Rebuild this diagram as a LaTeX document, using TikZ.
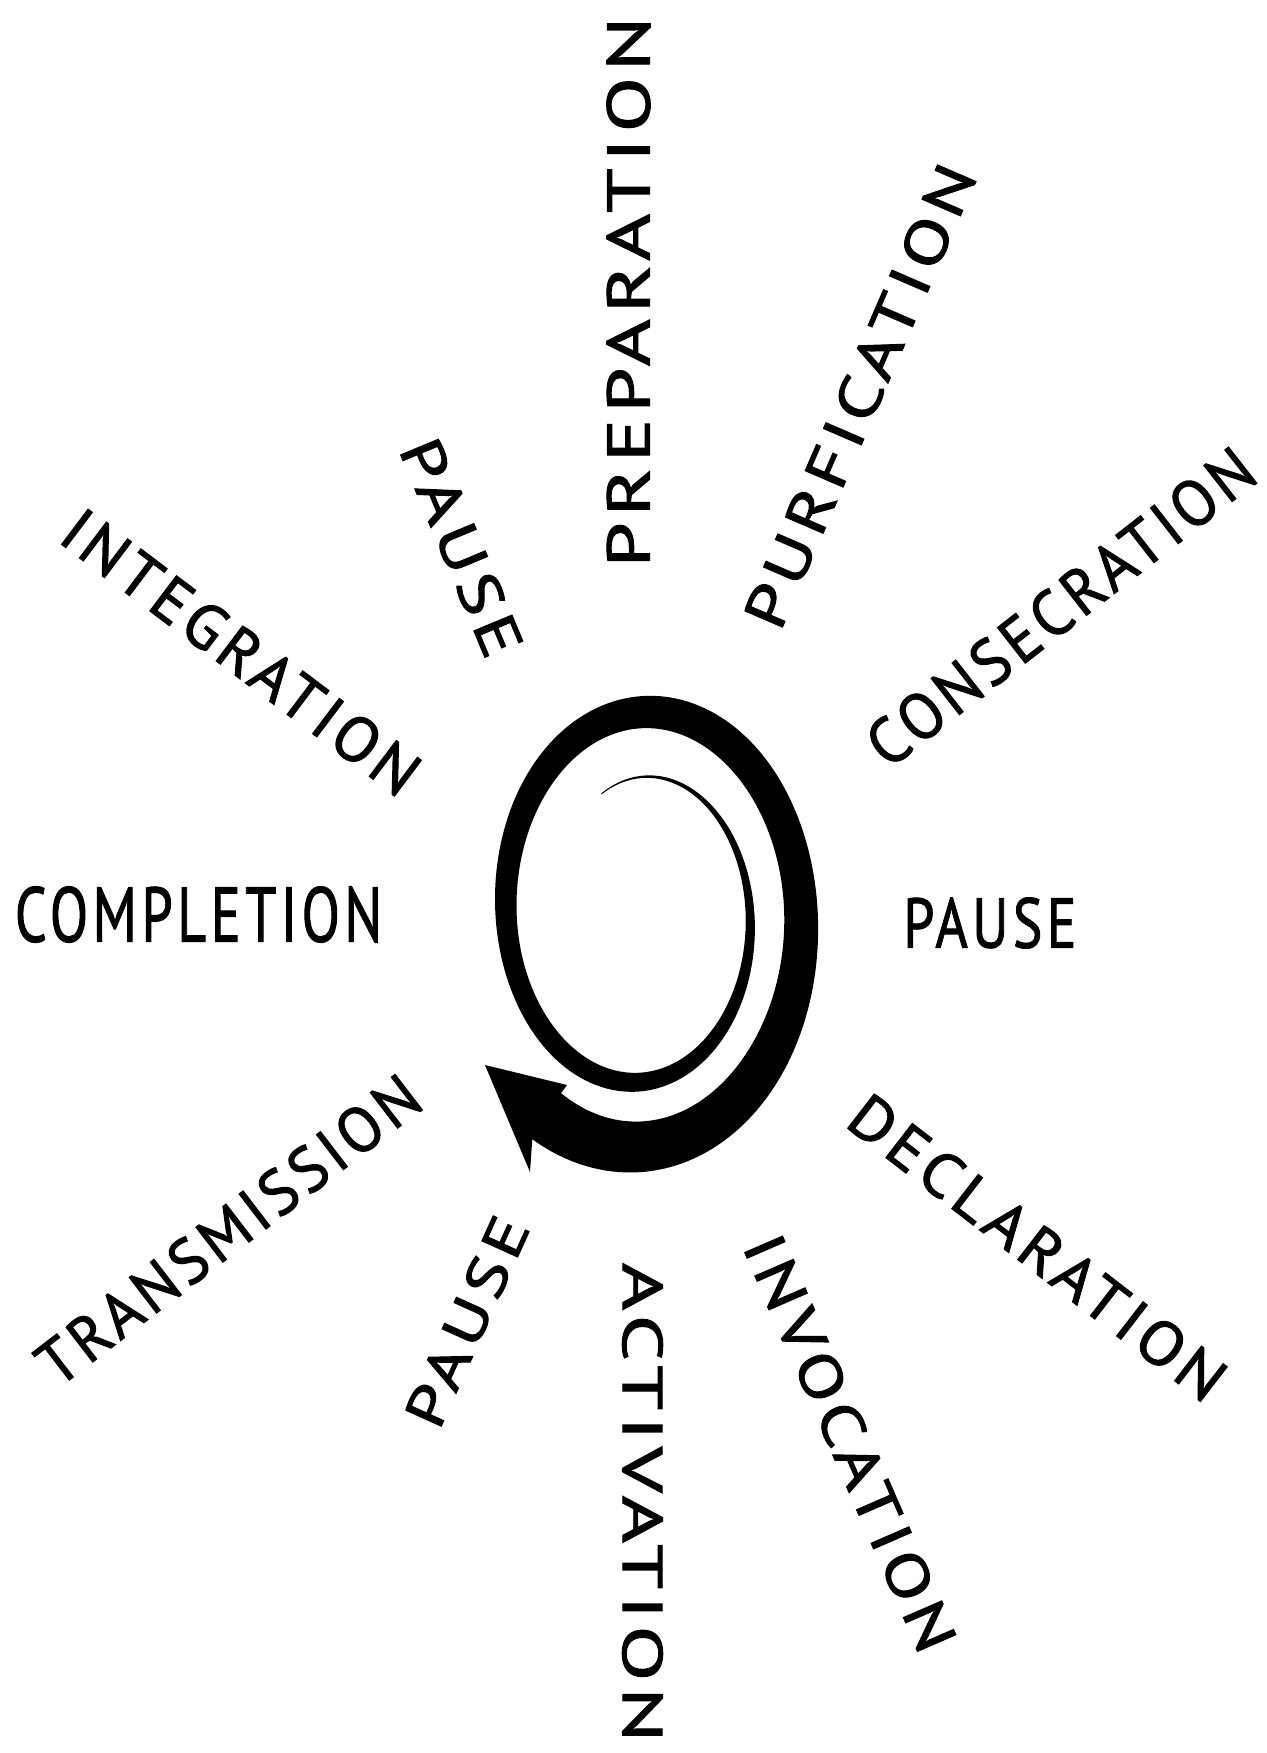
\documentclass[tikz,border=0pt]{standalone}
\usepackage{graphicx}
\usepackage{fontspec}
\newfontfamily\lblfont[LetterSpace=8,FakeBold=1.6]{PT Sans}
\newlength\pxu
\setlength\pxu{0.1mm}
\newcommand\lbl[3]{\resizebox{#1\pxu}{#2\pxu}{\lblfont #3}}
\begin{document}
\begin{tikzpicture}[x=0.01cm,y=-0.01cm,
  lab/.style={inner sep=0pt,outer sep=0pt,anchor=center},
  declare function={
    sa(\t)=109.25+0.1417*\t;
    sb(\t)=152.5+0.18*\t;
    sw(\t)=1+54*pow((\t+116)/604,1.2)+3*exp(-((\t-90)/60)^2)-3*exp(-((\t-180)/50)^2)-8*exp(-((\t-360)/50)^2);
  }]
\useasboundingbox (0,0) rectangle (1267,1753);
\fill[white] (0,0) rectangle (1267,1753);
% spiral arrow
\def\cx{640.75}
\def\cy{913.3}
\fill[black]
  plot[domain=-115:482,samples=300,variable=\t]
    ({\cx+(sa(\t)+sw(\t)/2)*cos(\t)},{\cy+(sb(\t)+sw(\t)/2)*sin(\t)})
  -- (530,1172) -- (485,1065) -- (567,1085)
  -- plot[domain=482:-115,samples=300,variable=\t]
    ({\cx+(sa(\t)-sw(\t)/2)*cos(\t)},{\cy+(sb(\t)-sw(\t)/2)*sin(\t)})
  -- cycle;
% labels
\node[lab,rotate=90]    (prep)    at (628.5,292)   {\lbl{550}{43}{PREPARATION}};
\node[lab,rotate=66.6]  (purif)   at (860,396)     {\lbl{498}{42}{PURFICATION}};
\node[lab,rotate=38]    (consec)  at (1060.5,607)  {\lbl{472}{46}{CONSECRATION}};
\node[lab]              (pauseR)  at (990,923)     {\lbl{173}{50}{PAUSE}};
\node[lab,rotate=-37.7] (decl)    at (1037.5,1247.5) {\lbl{457}{44}{DECLARATION}};
\node[lab,rotate=-66.5] (invoc)   at (850,1443)    {\lbl{448}{42}{INVOCATION}};
\node[lab,rotate=-90]   (activ)   at (642.5,1502.5) {\lbl{479}{40}{ACTIVATION}};
\node[lab,rotate=65.7]  (pauseBL) at (467,1321.5)  {\lbl{224}{40}{PAUSE}};
\node[lab,rotate=37.5]  (trans)   at (228.5,1230) {\lbl{464}{45}{TRANSMISSION}};
\node[lab]              (compl)   at (198.5,914.5) {\lbl{367}{55}{COMPLETION}};
\node[lab,rotate=-37]   (integ)   at (241,652)     {\lbl{429}{45}{INTEGRATION}};
\node[lab,rotate=-67.4] (pauseTL) at (461.5,547.5) {\lbl{230}{42}{PAUSE}};
\end{tikzpicture}
\end{document}
